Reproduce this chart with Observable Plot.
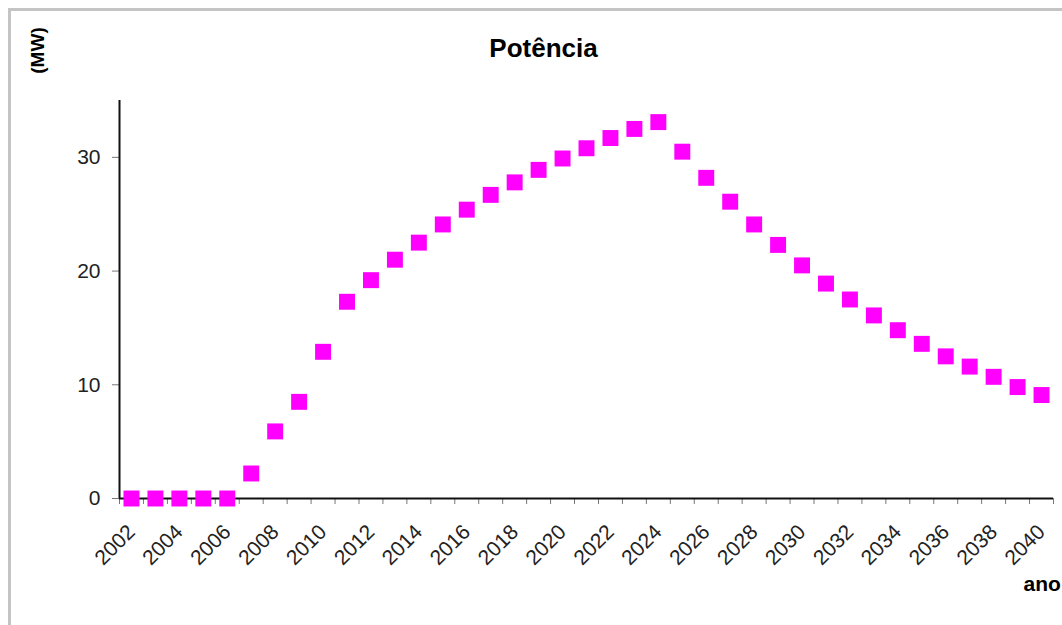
<!DOCTYPE html>
<html>
<head>
<meta charset="utf-8">
<script src="https://cdn.jsdelivr.net/npm/d3@7"></script>
<script src="https://cdn.jsdelivr.net/npm/@observablehq/plot@0.6"></script>
<style>
  html, body { margin: 0; padding: 0; background: #fff; }
  #wrap { position: relative; width: 1062px; height: 625px; overflow: hidden; background: #fff; }
  #frame { position: absolute; left: 8px; top: 8px; width: 1100px; height: 700px;
           border-top: 3px solid #c4c4c4; border-left: 3px solid #c4c4c4; }
  #chart { position: absolute; left: 0; top: 0; }
</style>
</head>
<body>
<div id="wrap"><div id="frame"></div><div id="chart"></div></div>
<script>
// Data
const years = [2002,2003,2004,2005,2006,2007,2008,2009,2010,2011,2012,2013,2014,2015,2016,2017,2018,2019,2020,
               2021,2022,2023,2024,2025,2026,2027,2028,2029,2030,2031,2032,2033,2034,2035,2036,2037,2038,2039,2040];
const power = [0,0,0,0,0,2.2,5.9,8.5,12.9,17.3,19.2,21.0,22.5,24.1,25.4,26.7,27.8,28.9,29.9,
               30.8,31.7,32.5,33.1,30.5,28.2,26.1,24.1,22.3,20.5,18.9,17.5,16.1,14.8,13.6,12.5,11.6,10.7,9.8,9.1];
const yTicks = [0, 10, 20, 30];
const xLabelYears = [2002,2004,2006,2008,2010,2012,2014,2016,2018,2020,2022,2024,2026,2028,2030,2032,2034,2036,2038,2040];
const titleText = "Potência";
const yUnit = "(MW)";
const xUnit = "ano";

const data = years.map((y, i) => ({year: y, mw: power[i]}));
const boundaries = years.map(y => y - 0.5).concat([years[years.length - 1] + 0.5]);

const chart = Plot.plot({
  width: 1062,
  height: 625,
  marginLeft: 119,
  marginRight: 9,
  marginTop: 100,
  marginBottom: 127,
  style: {fontFamily: "'Liberation Sans', Arial, sans-serif", background: "transparent", overflow: "visible"},
  x: {domain: [2001.5, 2040.5]},
  y: {domain: [0, 35]},
  marks: [
    Plot.axisY({ticks: yTicks, tickSize: 7, tickPadding: 12, fontSize: 21, stroke: "#777", fill: "#222", label: null}),
    Plot.axisX({ticks: boundaries, tickSize: 6, tickFormat: () => "", stroke: "#777", label: null}),
    Plot.text(xLabelYears, {x: d => d, text: d => String(d), frameAnchor: "bottom", dx: 0, dy: 30,
                            rotate: -45, textAnchor: "end", lineAnchor: "middle", fontSize: 21, fill: "#222"}),
    Plot.ruleY([0], {stroke: "#111", strokeWidth: 2}),
    Plot.ruleX([2001.5], {stroke: "#111", strokeWidth: 2}),
    Plot.dot(data, {x: "year", y: "mw", symbol: "square", r: 9, fill: "#ff00ff", stroke: null}),
    Plot.text([titleText], {frameAnchor: "top", dx: -43, dy: -62, fontSize: 26, fontWeight: "bold", fill: "#000"}),
    Plot.text([yUnit], {frameAnchor: "top-left", dx: -89, dy: -50, rotate: -90, fontSize: 19, fontWeight: "bold", fill: "#000", textAnchor: "middle"}),
    Plot.text([xUnit], {frameAnchor: "bottom-right", dx: -30, dy: 92, fontSize: 21, fontWeight: "bold", fill: "#000", textAnchor: "start"})
  ]
});
document.getElementById("chart").appendChild(chart);
</script>
</body>
</html>
